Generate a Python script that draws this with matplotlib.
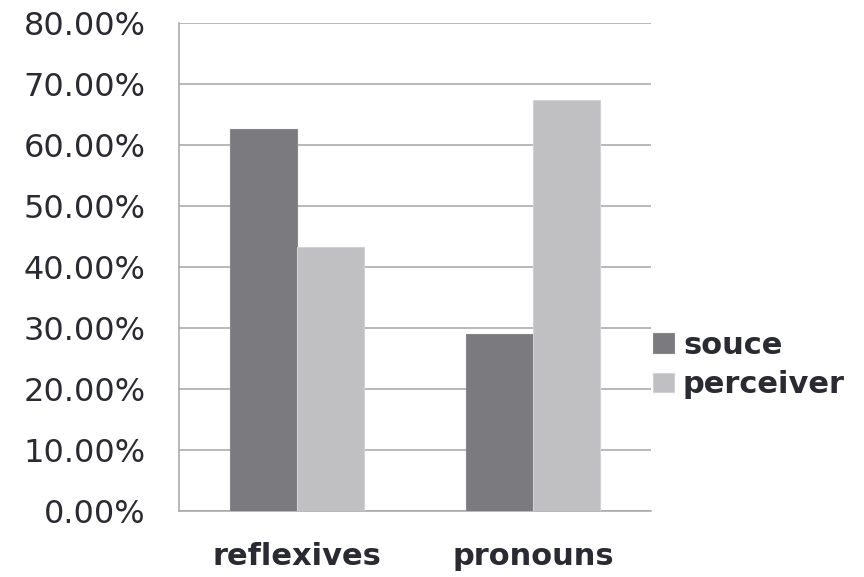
import numpy as np
import matplotlib
matplotlib.use("Agg")
import matplotlib.pyplot as plt

# data
categories = ['reflexives', 'pronouns']
series = ['souce', 'perceiver']
souce = [62.6, 29.0]
perceiver = [43.2, 67.4]
yticks = [0, 10, 20, 30, 40, 50, 60, 70, 80]

dark = '#7b7a7f'
light = '#c0c0c2'
grid_c = '#a6a6a6'
text_c = '#2a2a33'

plt.rcParams['font.family'] = ['DejaVu Sans']

fig = plt.figure(figsize=(8.64, 5.77), dpi=100)
ax = fig.add_axes([179 / 864, 1 - 511 / 577, (651 - 179) / 864, (511 - 23) / 577])

x = np.arange(len(categories))
w = 1 / 3.5
b1 = ax.bar(x - w / 2, souce, w, color=dark, edgecolor='#88878c', linewidth=0.8, label=series[0], zorder=3)
b2 = ax.bar(x + w / 2, perceiver, w, color=light, edgecolor='#d2d2d4', linewidth=0.8, label=series[1], zorder=3)

ax.set_xlim(-0.5, 1.5)
ax.set_ylim(0, 80)
ax.set_yticks(yticks)
ax.set_yticklabels(['{:.2f}%'.format(v) for v in yticks], fontsize=23, color=text_c)
ax.set_xticks(x)
ax.set_xticklabels(categories, fontsize=22, fontweight='bold', color=text_c)
ax.tick_params(axis='y', length=0, pad=24)
ax.tick_params(axis='x', length=0, pad=22)

ax.yaxis.grid(True, color=grid_c, linewidth=1.1, zorder=0)
ax.set_axisbelow(True)
for s in ['top', 'right']:
    ax.spines[s].set_visible(False)
for s in ['left', 'bottom']:
    ax.spines[s].set_color(grid_c)
    ax.spines[s].set_linewidth(1.1)

leg = fig.legend(handles=[b1, b2], labels=series, loc='center left',
                 bbox_to_anchor=(653 / 864, 1 - 365 / 577), frameon=False,
                 borderpad=0, borderaxespad=0, handlelength=0.68, handleheight=0.6,
                 handletextpad=0.3, labelspacing=0.35,
                 prop={'size': 22, 'weight': 'bold'})
for t in leg.get_texts():
    t.set_color(text_c)

fig.savefig('out.png', dpi=100)
